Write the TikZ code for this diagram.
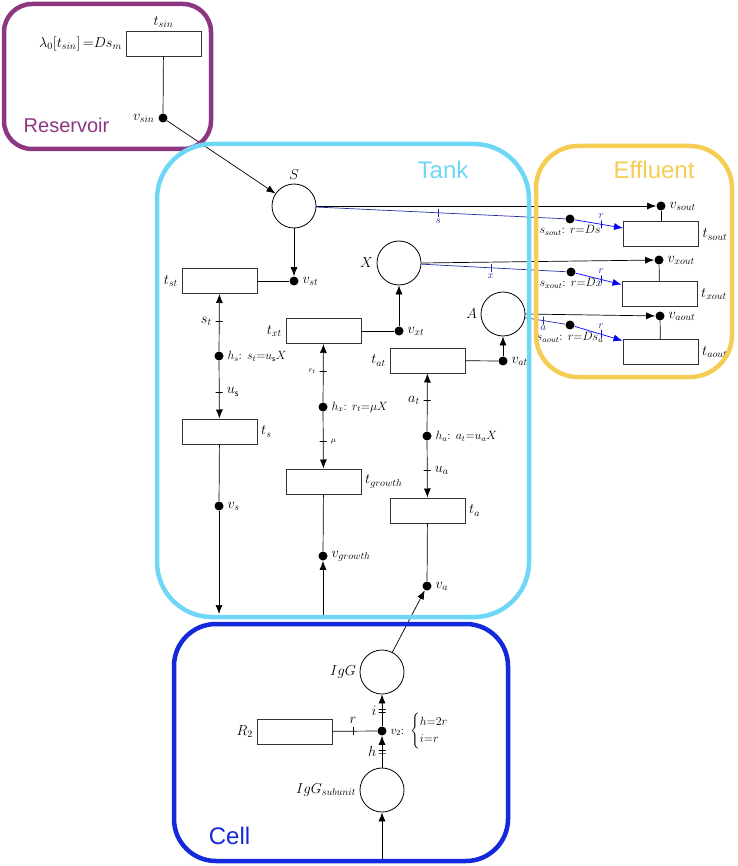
\documentclass[tikz,border=0pt]{standalone}
\usepackage{amsmath}
\usepackage{fontspec}
\usepackage{xcolor}
\usepackage{tikz}
\usetikzlibrary{arrows.meta, positioning}

\newfontfamily\regionfont{Liberation Sans}
\definecolor{reservoircol}{RGB}{140,55,130}
\definecolor{tankcol}{RGB}{110,215,245}
\definecolor{effluentcol}{RGB}{245,205,85}
\definecolor{cellcol}{RGB}{20,40,220}
\definecolor{navy}{RGB}{35,45,165}

\begin{document}
\begin{tikzpicture}[
  x=1pt, y=-1pt,
  line width=0.7pt,
  font=\fontsize{14}{16}\selectfont,
  place/.style={circle, draw, line width=0.8pt, minimum size=44pt, inner sep=0pt},
  trans/.style={rectangle, draw=black!80, line width=1pt, minimum width=75pt, minimum height=25pt, inner sep=0pt},
  junc/.style={circle, fill, minimum size=9pt, inner sep=0pt},
  flow/.style={-{Latex[length=9pt, width=7pt]}},
  htick/.style={draw, inner sep=0pt, minimum width=7pt, minimum height=0pt},
  vtick/.style={draw, inner sep=0pt, minimum width=0pt, minimum height=8pt},
  hlabel/.style={font=\fontsize{12}{14}\selectfont},
  mini/.style={font=\fontsize{8}{10}\selectfont},
  bluelab/.style={font=\fontsize{11}{13}\selectfont, inner sep=1pt},
  region/.style={line width=4.5pt},
  rtitle/.style={font=\regionfont\fontsize{24}{28}\selectfont}
]
\useasboundingbox (0,0) rectangle (737,866);

% reservoir
\node[trans, label=above:$t_{sin}$, label={left:{$\lambda_0[t_{sin}]\,{=}Ds_m$}}] (tsin) at (163.5,44) {};
\node[junc, label=left:$v_{sin}$] (vsin) at (163,118) {};

% tank: substrate
\node[place, label=above:$S$] (S) at (294,206) {};
\node[junc, label=right:$v_{st}$] (vst) at (294,281) {};
\node[trans, label=left:$t_{st}$] (tst) at (219.5,281) {};
\node[junc, label={[hlabel]right:{$h_s$: $s_t{=}u_{\mathsf{s}}X$}}] (hs) at (219,356) {};
\node[trans, label=right:$t_s$] (ts) at (219.5,431.5) {};
\node[junc, label=right:$v_s$] (vs) at (219,506) {};
\coordinate (sdown) at (219,614);

% tank: biomass
\node[place, label=left:$X$] (X) at (399,263) {};
\node[junc, label=right:$v_{xt}$] (vxt) at (399,331) {};
\node[trans, label=left:$t_{xt}$] (txt) at (323.5,331) {};
\node[junc, label={[hlabel]right:{$h_x$: $r_t{=}\mu X$}}] (hx) at (323,407) {};
\node[trans, label=right:$t_{growth}$] (tgrowth) at (323.5,481.5) {};
\node[junc, label=right:$v_{growth}$] (vgrowth) at (323,556) {};
\coordinate (gup) at (323,617);

% tank: antibody
\node[place, label=left:$A$] (A) at (503,314) {};
\node[junc, label=right:$v_{at}$] (vat) at (503,361) {};
\node[trans, label=left:$t_{at}$] (tat) at (427.5,360.5) {};
\node[junc, label={[hlabel]right:{$h_a$: $a_t{=}u_aX$}}] (ha) at (427,436) {};
\node[trans, label=right:$t_a$] (ta) at (427.5,510.5) {};
\node[junc, label=right:$v_a$] (va) at (427,586) {};

% effluent
\node[junc, label=right:$v_{sout}$] (vsout) at (661,206) {};
\node[junc, label={[hlabel, label distance=-2pt]below:{$s_{sout}$: $r{=}Ds$}}] (ssout) at (570,219) {};
\node[trans, label=right:$t_{sout}$] (tsout) at (661,234.5) {};
\node[junc, label=right:$v_{xout}$] (vxout) at (659,260) {};
\node[junc, label={[hlabel, label distance=-2pt]below:{$s_{xout}$: $r{=}Dx$}}] (sxout) at (571,272) {};
\node[trans, label=right:$t_{xout}$] (txout) at (659.5,294) {};
\node[junc, label=right:$v_{aout}$] (vaout) at (660,316) {};
\node[junc, label={[hlabel, label distance=-1pt]below:{$s_{aout}$: $r{=}Ds_a$}}] (saout) at (570,325) {};
\node[trans, label=right:$t_{aout}$] (taout) at (660.5,352) {};

% cell
\node[place, label=left:$IgG$] (IgG) at (382,672) {};
\node[junc, label={[hlabel]right:{$v_2$:\enspace$\begin{cases}h{=}2r\\ i{=}r\end{cases}$}}] (v2) at (382,731) {};
\node[trans, label=left:$R_2$] (R2) at (294.5,731.5) {};
\node[place, label=left:$IgG_{subunit}$] (IgGsub) at (382,790) {};
\coordinate (cup) at (382,862);

% arcs
\draw (tsin) -- (vsin);
\draw[flow] (vsin) -- (S);
\draw[flow] (S) -- (vst);
\draw (tst) -- (vst);
\draw[flow] (hs) -- (tst) node[htick, pos=.52, label=left:$s_t$] {};
\draw[flow] (hs) -- (ts) node[htick, pos=.54, label=right:$u_{\mathsf{s}}$] {};
\draw (ts) -- (vs);
\draw[flow] (vs) -- (sdown);

\draw (txt) -- (vxt);
\draw[flow] (vxt) -- (X);
\draw[flow] (hx) -- (txt) node[htick, pos=.53, label={[mini]left:$r_t$}] {};
\draw[flow] (hx) -- (tgrowth) node[htick, pos=.52, label={[mini]right:$\mu$}] {};
\draw (tgrowth) -- (vgrowth);
\draw[flow] (gup) -- (vgrowth);

\draw (tat) -- (vat);
\draw[flow] (vat) -- (A);
\draw[flow] (ha) -- (tat) node[htick, pos=.54, label=left:$a_t$] {};
\draw[flow] (ha) -- (ta) node[htick, pos=.52, label=right:$u_a$] {};
\draw (ta) -- (va);
\draw[flow] (IgG) -- (va);

% outflow
\draw[flow] (S.east) -- (vsout);
\draw (vsout) -- (tsout);
\draw[navy] (S) -- (ssout) node[vtick, pos=.49, label={[bluelab, navy]below:$s$}] {};
\draw[flow, blue] (ssout) -- (tsout) node[vtick, pos=.55, label={[bluelab, navy]above:$r$}] {};
\draw[flow] (X.east) -- (vxout);
\draw (vxout) -- (txout);
\draw[navy] (X) -- (sxout) node[vtick, pos=.48, label={[bluelab, navy]below:$x$}] {};
\draw[flow, blue] (sxout) -- (txout) node[vtick, pos=.55, label={[bluelab, navy]above:$r$}] {};
\draw[flow] (A.east) -- (vaout);
\draw (vaout) -- (taout);
\draw[navy] (A) -- (saout) node[vtick, pos=.45, label={[bluelab, navy, label distance=-1pt]below:$a$}] {};
\draw[flow, blue] (saout) -- (taout) node[vtick, pos=.55, label={[bluelab, navy]above:$r$}] {};

% cell arcs
\draw (R2) -- (v2) node[vtick, pos=.46, label=above:$r$] {};
\draw[flow] (v2) -- (IgG) node[htick, pos=.42] {} node[htick, pos=.53] {} node[pos=.48, left=2pt] {$i$};
\draw[flow] (IgGsub) -- (v2) node[htick, pos=.46] {} node[htick, pos=.55] {} node[pos=.5, left=2pt] {$h$};
\draw[flow] (cup) -- (IgGsub);

% compartments
\draw[region, reservoircol, rounded corners=28pt] (4,4) rectangle (211,149);
\node[rtitle, reservoircol, font=\regionfont\fontsize{20}{24}\selectfont] at (66.5,125) {Reservoir};
\draw[region, tankcol, rounded corners=55pt] (157,144) rectangle (529,617);
\node[rtitle, tankcol] at (443,170) {Tank};
\draw[region, effluentcol, rounded corners=42pt] (536,146) rectangle (732,377);
\node[rtitle, effluentcol] at (654,170) {Effluent};
\draw[region, cellcol, rounded corners=42pt] (174,624) rectangle (508,861);
\node[rtitle, cellcol] at (229.5,836) {Cell};
\end{tikzpicture}
\end{document}
